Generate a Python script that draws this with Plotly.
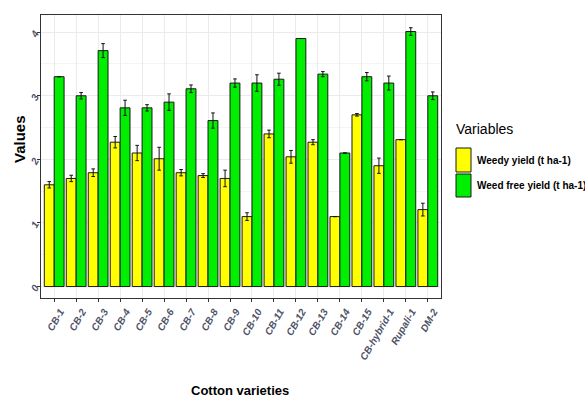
import plotly.graph_objects as go

# Cotton varieties and yields (t ha-1) with standard errors
varieties = ["CB-1", "CB-2", "CB-3", "CB-4", "CB-5", "CB-6", "CB-7", "CB-8", "CB-9",
             "CB-10", "CB-11", "CB-12", "CB-13", "CB-14", "CB-15", "CB-hybrid-1",
             "Rupali-1", "DM-2"]
weedy_yield = [1.60, 1.70, 1.79, 2.27, 2.10, 2.01, 1.79, 1.745, 1.70,
               1.10, 2.40, 2.04, 2.27, 1.10, 2.70, 1.90, 2.31, 1.21]
weedy_err = [0.05, 0.05, 0.06, 0.09, 0.12, 0.18, 0.05, 0.03, 0.13,
             0.06, 0.06, 0.10, 0.04, 0.0, 0.02, 0.12, 0.0, 0.10]
weedfree_yield = [3.30, 3.00, 3.71, 2.81, 2.81, 2.90, 3.11, 2.61, 3.20,
                  3.20, 3.26, 3.90, 3.34, 2.10, 3.30, 3.20, 4.01, 3.00]
weedfree_err = [0.0, 0.05, 0.11, 0.12, 0.05, 0.13, 0.06, 0.12, 0.065,
                0.13, 0.095, 0.0, 0.04, 0.0, 0.065, 0.11, 0.06, 0.06]

series_names = ["Weedy yield (t ha-1)", "Weed free yield (t ha-1)"]
series_colors = ["#FFFF00", "#00EE00"]

W, H = 585, 398
ML, MR, MT, MB = 41, 144, 15, 100
PW, PH = W - ML - MR, H - MT - MB
FONT = "Liberation Sans, Arial, sans-serif"


def px(x):
    return (x - ML) / PW


def py(y):
    return (H - MB - y) / PH


fig = go.Figure()
for name, vals, errs, col in [
    (series_names[0], weedy_yield, weedy_err, series_colors[0]),
    (series_names[1], weedfree_yield, weedfree_err, series_colors[1]),
]:
    fig.add_trace(go.Bar(
        x=varieties, y=vals, name=name,
        marker=dict(color=col, line=dict(color="#1a1a1a", width=1)),
        error_y=dict(type="data", array=errs, visible=True,
                     color="#111111", thickness=1, width=1.8),
        showlegend=False,
    ))

tick_font = dict(family=FONT, size=10, color="#4d5266",
                 style="italic", weight="bold")

fig.update_layout(
    width=W, height=H,
    margin=dict(l=ML, r=MR, t=MT, b=MB, pad=0),
    paper_bgcolor="white", plot_bgcolor="white",
    barmode="group", bargap=0.1, bargroupgap=0,
    xaxis=dict(
        range=[-0.6, len(varieties) - 0.4],
        tickangle=-60, tickfont=tick_font, ticklabelshift=6,
        showgrid=True, gridcolor="#ebebeb", gridwidth=1,
        showline=True, mirror=True, linecolor="#333333", linewidth=1,
        ticks="outside", ticklen=3, tickcolor="#333333",
        zeroline=False,
    ),
    yaxis=dict(
        range=[-0.18, 4.27],
        tickvals=[0, 1, 2, 3, 4], tickangle=-60, tickfont=tick_font,
        showgrid=True, gridcolor="#ebebeb", gridwidth=1,
        minor=dict(dtick=0.5, showgrid=True, gridcolor="#f4f4f4", gridwidth=0.6),
        showline=True, mirror=True, linecolor="#333333", linewidth=1,
        ticks="outside", ticklen=3, tickcolor="#333333",
        zeroline=False,
    ),
)

# Axis titles
fig.add_annotation(text="<b>Cotton varieties</b>", xref="paper", yref="paper",
                   x=px(240), y=py(390), xanchor="center", yanchor="middle",
                   showarrow=False, font=dict(family=FONT, size=13, color="#000000"))
fig.add_annotation(text="<b>Values</b>", xref="paper", yref="paper",
                   x=px(19), y=py(139), xanchor="center", yanchor="middle",
                   showarrow=False, textangle=-90,
                   font=dict(family=FONT, size=15, color="#000000"))

# Legend
fig.add_annotation(text="Variables", xref="paper", yref="paper",
                   x=px(454), y=py(129), xanchor="left", yanchor="middle",
                   showarrow=False, font=dict(family=FONT, size=14, color="#000000"))
key_rows = [(148, 172), (174, 197)]
for (y0, y1), name, col in zip(key_rows, series_names, series_colors):
    fig.add_shape(type="rect", xref="paper", yref="paper",
                  x0=px(456), x1=px(471), y0=py(y1), y1=py(y0),
                  fillcolor=col, line=dict(color="#1a1a1a", width=1))
    fig.add_annotation(text="<b>" + name + "</b>", xref="paper", yref="paper",
                       x=px(475), y=py((y0 + y1) / 2), xanchor="left", yanchor="middle",
                       showarrow=False, font=dict(family=FONT, size=10, color="#000000"))

fig.write_html("out.html")
